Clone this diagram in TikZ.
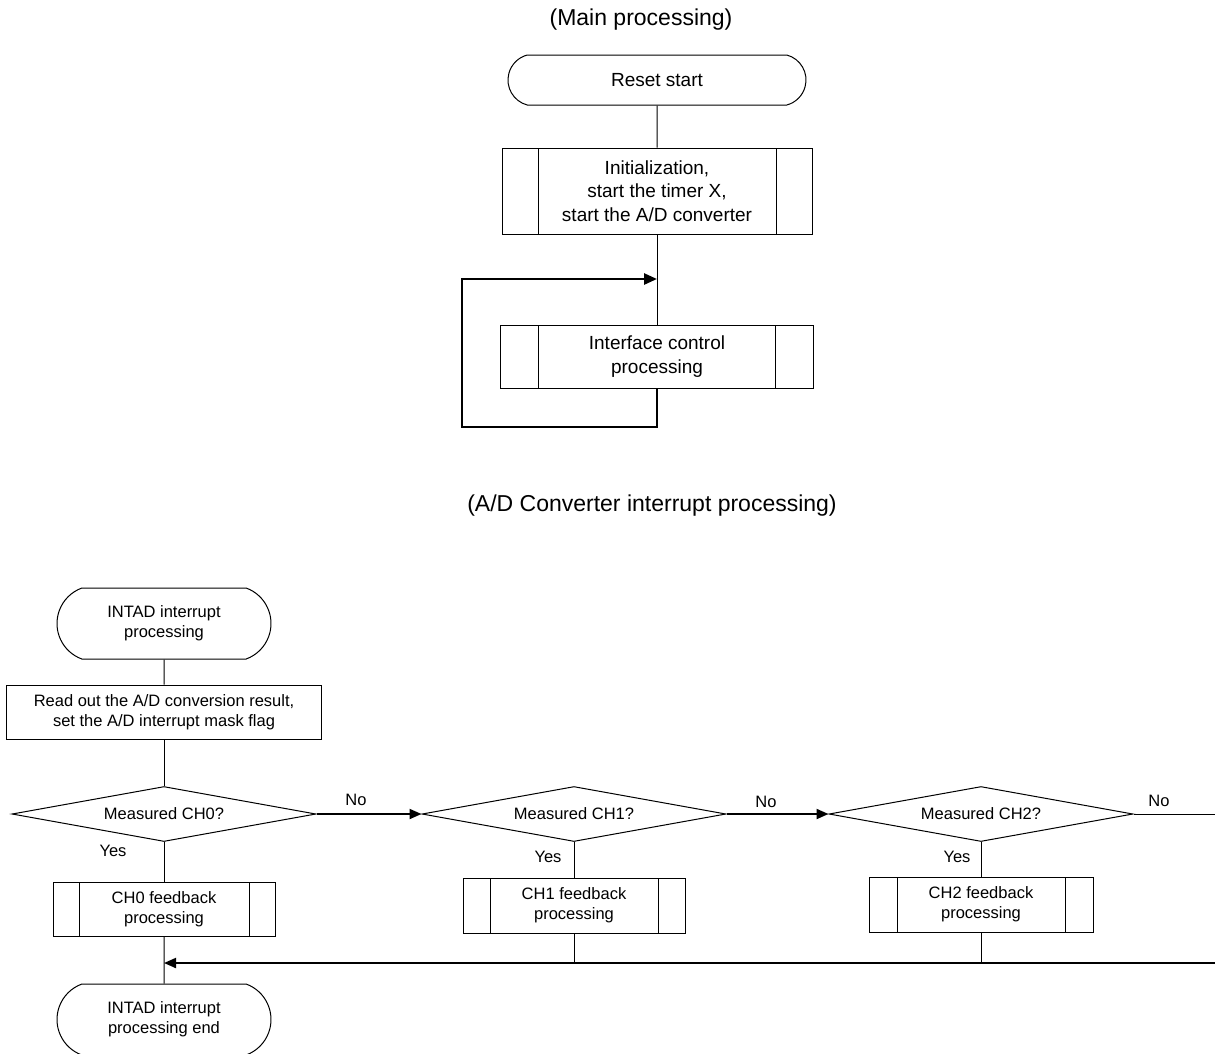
\documentclass[tikz,border=0pt]{standalone}
\usepackage{fontspec}
\setmainfont{Liberation Sans}
\usetikzlibrary{shapes.misc,shapes.geometric,arrows.meta}

\tikzset{
  line/.style={line width=1pt},
  loopflow/.style={line width=2.6pt, -{Triangle[length=13pt,width=11pt]}},
  flow/.style={line width=2pt, -{Triangle[length=12pt,width=10pt]}},
  bigtxt/.style={font=\fontsize{19}{23.5}\selectfont},
  smalltxt/.style={font=\fontsize{16.5}{20}\selectfont},
  titletxt/.style={font=\fontsize{23}{28}\selectfont},
  terminal/.style={draw, line width=1pt, rounded rectangle,
    rounded rectangle arc length=#1, inner sep=0pt, align=center},
  plainbox/.style={draw, line width=1pt, rectangle, inner sep=0pt, align=center},
  subproc/.style={draw, line width=1pt, rectangle, inner sep=0pt, align=center,
    path picture={
      \draw[line width=1pt] ([xshift=#1]path picture bounding box.north west)
        -- ([xshift=#1]path picture bounding box.south west);
      \draw[line width=1pt] ([xshift=-#1]path picture bounding box.north east)
        -- ([xshift=-#1]path picture bounding box.south east);
    }},
  decision/.style={draw, line width=1pt, diamond, aspect=5.5, inner sep=0pt,
    minimum width=304pt, minimum height=55pt},
}

\begin{document}
\begin{tikzpicture}[x=1pt,y=-1pt]
\useasboundingbox (0,0) rectangle (1215,1053);

% ---------- main processing ----------
\node[titletxt] (t1) at (641,20) {(Main processing)};

\node[terminal=150, bigtxt, minimum width=298pt, minimum height=50pt]
  (reset) at (657,80) {Reset start};
\node[subproc=36pt, bigtxt, minimum width=310pt, minimum height=86pt]
  (init) at (657,191) {Initialization,\\start the timer X,\\start the A/D converter};
\node[subproc=38pt, bigtxt, minimum width=313pt, minimum height=63pt]
  (iface) at (657,356.5) {Interface control\\processing};

\coordinate (loopin) at (657,279);
\coordinate (loopcorner) at (462,427);

\draw[line] (reset) -- (init);
\draw[line] (init) -- (iface);
\draw[loopflow] (iface.south) |- (loopcorner) |- (loopin);

% ---------- A/D converter interrupt processing ----------
\node[titletxt] (t2) at (652,506) {(A/D Converter interrupt processing)};

\node[terminal=140, smalltxt, minimum width=214pt, minimum height=71pt]
  (intad) at (164,623.5) {INTAD interrupt\\processing};
\node[plainbox, smalltxt, minimum width=315pt, minimum height=54pt]
  (read) at (164,712) {Read out the A/D conversion result,\\set the A/D interrupt mask flag};

\node[decision, smalltxt] (d0) at (164,814) {Measured CH0?};
\node[decision, smalltxt] (d1) at (574,814) {Measured CH1?};
\node[decision, smalltxt] (d2) at (981,814) {Measured CH2?};

\node[subproc=26pt, smalltxt, minimum width=222pt, minimum height=54pt]
  (p0) at (164,909) {CH0 feedback\\processing};
\node[subproc=27pt, smalltxt, minimum width=222pt, minimum height=55pt]
  (p1) at (574,905.5) {CH1 feedback\\processing};
\node[subproc=28pt, smalltxt, minimum width=224pt, minimum height=55pt]
  (p2) at (981,904.5) {CH2 feedback\\processing};

\node[terminal=140, smalltxt, minimum width=214pt, minimum height=71pt]
  (endp) at (164,1019.5) {INTAD interrupt\\processing end};

\node[smalltxt] (yes0) at (113,851) {Yes};
\node[smalltxt] (yes1) at (548,857) {Yes};
\node[smalltxt] (yes2) at (957,857) {Yes};
\node[smalltxt] (no0) at (356,800) {No};
\node[smalltxt] (no1) at (766,802) {No};
\node[smalltxt] (no2) at (1159,801) {No};

\coordinate (m0) at (164,963);
\coordinate (mR) at (1215,963);
\coordinate (nR) at (1215,814);

\draw[line] (intad) -- (read);
\draw[line] (read) -- (d0);
\draw[line] (d0) -- (p0);
\draw[line] (p0) -- (endp);
\draw[line] (d1) -- (p1);
\draw[line] (d2) -- (p2);
\draw[line] (p1.south) -- (p1.south |- m0);
\draw[line] (p2.south) -- (p2.south |- m0);

\draw[flow] (d0.east) -- (d1.west);
\draw[flow] (d1.east) -- (d2.west);
\draw[line] (d2.east) -- (nR);
\draw[flow] (mR) -- (m0);
\end{tikzpicture}
\end{document}
